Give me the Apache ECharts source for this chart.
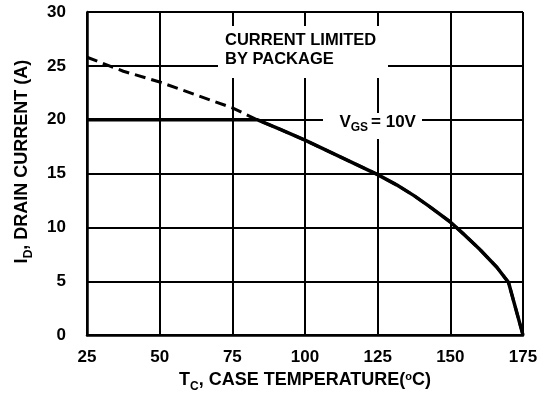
<!DOCTYPE html>
<html>
<head>
<meta charset="utf-8">
<script src="https://cdn.jsdelivr.net/npm/echarts@6/dist/echarts.min.js"></script>
<style>
  html, body { margin: 0; padding: 0; background: #fff; }
  #chart { width: 544px; height: 398px; }
</style>
</head>
<body>
<div id="chart"></div>
<script>
// 壳温 vs 漏极电流 (VGS = 10V, 封装限流 20A)
const tempLimited = [25, 83.5, 91.5, 100, 112.5, 125, 131.5, 137.5, 143, 150, 154.5, 160, 166, 170, 175];
const currentLimited = [20, 20, 19.1, 18.1, 16.5, 14.9, 13.95, 12.95, 11.9, 10.5, 9.4, 8.0, 6.3, 4.9, 0];

// 不受封装限制时的曲线 (虚线)
const tempSilicon = [25, 37.5, 50, 62.5, 75, 83.5, 91.5, 100, 112.5, 125, 131.5, 137.5, 143, 150, 154.5, 160, 166, 170, 175];
const currentSilicon = [25.8, 24.5, 23.5, 22.3, 21.1, 20, 19.1, 18.1, 16.5, 14.9, 13.95, 12.95, 11.9, 10.5, 9.4, 8.0, 6.3, 4.9, 0];

const xTicks = [25, 50, 75, 100, 125, 150, 175];
const yTicks = [0, 5, 10, 15, 20, 25, 30];

// VGS 标注位置 (数据坐标)
const vgsLabelAt = [125, 19.6];

const FONT = '"Liberation Sans", Arial, sans-serif';

const zip = (xs, ys) => xs.map((x, i) => [x, ys[i]]);

const myChart = echarts.init(document.getElementById('chart'));

const option = {
    animation: false,
    backgroundColor: '#fff',
    textStyle: { fontFamily: FONT },
    grid: { left: 87, right: 21, top: 12, bottom: 56, containLabel: false },
    xAxis: {
        type: 'value',
        min: xTicks[0],
        max: xTicks[xTicks.length - 1],
        interval: 25,
        name: '{m|T}{s|C}{m|, CASE TEMPERATURE(}{o|o}{m|C)}',
        nameLocation: 'middle',
        nameGap: 28,
        nameTextStyle: {
            rich: {
                m: { fontFamily: FONT, fontWeight: 'bold', fontSize: 18, color: '#000', lineHeight: 22, verticalAlign: 'top' },
                s: { fontFamily: FONT, fontWeight: 'bold', fontSize: 12, color: '#000', lineHeight: 12, verticalAlign: 'bottom' },
                o: { fontFamily: FONT, fontWeight: 'bold', fontSize: 11, color: '#000', lineHeight: 6, verticalAlign: 'top' }
            }
        },
        axisLine: { show: true, lineStyle: { color: '#000', width: 2.5 } },
        axisTick: { show: false },
        axisLabel: { margin: 14, color: '#000', fontFamily: FONT, fontWeight: 'bold', fontSize: 17 },
        splitLine: { show: true, lineStyle: { color: '#000', width: 2 } }
    },
    yAxis: {
        type: 'value',
        min: yTicks[0],
        max: yTicks[yTicks.length - 1],
        interval: 5,
        name: '{m|I}{s|D}{m|, DRAIN CURRENT (A)}',
        nameLocation: 'middle',
        nameGap: 52,
        nameTextStyle: {
            padding: [0, 0, 0, 24],
            rich: {
                m: { fontFamily: FONT, fontWeight: 'bold', fontSize: 18, color: '#000', lineHeight: 22, verticalAlign: 'top' },
                s: { fontFamily: FONT, fontWeight: 'bold', fontSize: 12, color: '#000', lineHeight: 12, verticalAlign: 'bottom' }
            }
        },
        axisLine: { show: true, lineStyle: { color: '#000', width: 2.5 } },
        axisTick: { show: false },
        axisLabel: { margin: 21, color: '#000', fontFamily: FONT, fontWeight: 'bold', fontSize: 17 },
        splitLine: { show: true, lineStyle: { color: '#000', width: 2 } }
    },
    series: [{
        name: 'silicon',
        type: 'line',
        data: zip(tempSilicon, currentSilicon),
        symbol: 'none',
        z: 3,
        lineStyle: { color: '#000', width: 3, type: [11, 6] }
    }, {
        name: 'limited',
        type: 'line',
        data: zip(tempLimited, currentLimited),
        symbol: 'none',
        z: 4,
        lineStyle: { color: '#000', width: 3.5, join: 'round' },
        markPoint: {
            symbol: 'rect',
            symbolSize: 0,
            silent: true,
            data: [{ coord: vgsLabelAt }],
            label: {
                show: true,
                position: 'inside',
                formatter: '{m|V}{s|GS}{m|= 10V}',
                rich: {
                    m: { fontFamily: FONT, fontWeight: 'bold', fontSize: 17, color: '#000', lineHeight: 20, verticalAlign: 'top' },
                    s: { fontFamily: FONT, fontWeight: 'bold', fontSize: 12, color: '#000', lineHeight: 12, verticalAlign: 'bottom', padding: [0, 3, 0, 0] }
                }
            }
        }
    }],
    graphic: [{
        type: 'rect',
        z: 1,
        shape: { x: 218, y: 26, width: 170, height: 52 },
        style: { fill: '#fff' }
    }, {
        type: 'text',
        z: 101,
        x: 225,
        y: 31,
        style: {
            text: 'CURRENT LIMITED\nBY PACKAGE',
            font: 'bold 16.5px ' + FONT,
            lineHeight: 19,
            fill: '#000',
            verticalAlign: 'top'
        }
    }, {
        type: 'rect',
        z: 1,
        shape: { x: 323, y: 113, width: 99, height: 26 },
        style: { fill: '#fff' }
    }]
};

myChart.setOption(option);
</script>
</body>
</html>
